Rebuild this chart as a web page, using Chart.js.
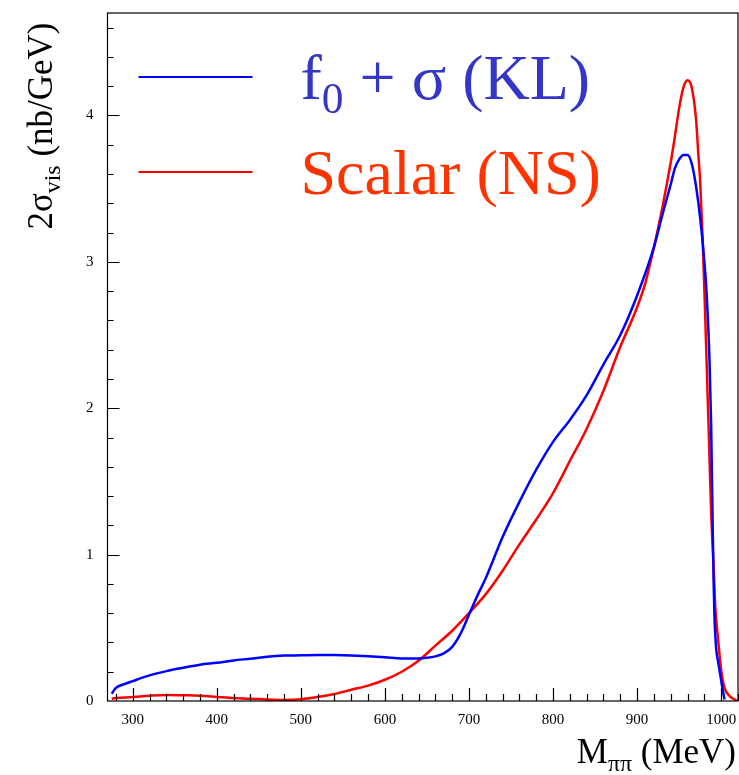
<!DOCTYPE html>
<html>
<head>
<meta charset="utf-8">
<script src="https://cdn.jsdelivr.net/npm/chart.js@4"></script>
<style>
  html, body { margin: 0; padding: 0; background: #fff; }
</style>
</head>
<body>
<canvas id="xsecChart" width="739" height="775"></canvas>
<script>
// M_pipi (MeV) vs 2 sigma_vis (nb/GeV)
const massKL = [275, 280, 290, 300, 320, 340, 360, 380, 400, 420, 440, 460, 480, 500, 520, 540, 560, 580, 600, 620,
  640, 650, 660, 670, 680, 690, 700, 710, 720, 740, 760, 780, 800, 820, 840, 860, 880, 900, 920, 930,
  940, 945, 950, 955, 960, 965, 970, 975, 980, 983, 986, 988, 990, 991, 992, 994, 996, 998, 1000, 1002, 1004];
const sigmaKL = [0.05, 0.09, 0.115, 0.136, 0.175, 0.204, 0.227, 0.248, 0.261, 0.277, 0.289, 0.302, 0.310, 0.312, 0.315, 0.314, 0.311, 0.306, 0.299, 0.291,
  0.290, 0.295, 0.305, 0.325, 0.37, 0.46, 0.59, 0.72, 0.84, 1.12, 1.36, 1.58, 1.77, 1.92, 2.09, 2.30, 2.50, 2.77, 3.10, 3.32,
  3.53, 3.64, 3.70, 3.73, 3.73, 3.67, 3.52, 3.30, 3.00, 2.75, 2.35, 1.90, 1.15, 0.82, 0.58, 0.36, 0.28, 0.21, 0.14, 0.07, 0.01];

const massNS = [275, 280, 300, 320, 340, 360, 380, 400, 420, 440, 460, 480, 500, 520, 540, 560, 580, 600, 620, 640,
  660, 680, 700, 720, 740, 760, 780, 800, 820, 840, 860, 880, 900, 910, 920, 930, 940, 945, 950, 955,
  960, 965, 970, 973, 975, 978, 981, 983, 986, 988, 991, 993, 996, 1000, 1004, 1010, 1016, 1020];
const sigmaNS = [0.016, 0.02, 0.027, 0.036, 0.041, 0.039, 0.036, 0.028, 0.020, 0.016, 0.010, 0.007, 0.012, 0.027, 0.048, 0.077, 0.105, 0.145, 0.20, 0.275,
  0.378, 0.48, 0.60, 0.73, 0.89, 1.07, 1.24, 1.42, 1.64, 1.86, 2.12, 2.42, 2.69, 2.86, 3.10, 3.37, 3.68, 3.86, 4.05, 4.19,
  4.24, 4.19, 3.98, 3.72, 3.55, 3.15, 2.63, 2.25, 1.68, 1.30, 0.92, 0.64, 0.44, 0.21, 0.09, 0.034, 0.01, 0.0];

const seriesLabels = ['f0 + σ (KL)', 'Scalar (NS)'];

const SERIF = "'Liberation Serif', 'Times New Roman', serif";

function toPoints(xs, ys) {
  return xs.map((x, i) => ({ x: x, y: ys[i] }));
}

// pieces: [[text, isSub], ...] drawn on one baseline
function drawPieces(ctx, pieces, x, y, size, align) {
  const widths = pieces.map(p => {
    ctx.font = (p[1] ? size * 0.68 : size) + 'px ' + SERIF;
    return ctx.measureText(p[0]).width;
  });
  const total = widths.reduce((a, b) => a + b, 0);
  let cx = align === 'right' ? x - total : align === 'center' ? x - total / 2 : x;
  ctx.textAlign = 'left';
  ctx.textBaseline = 'alphabetic';
  pieces.forEach((p, i) => {
    ctx.font = (p[1] ? size * 0.68 : size) + 'px ' + SERIF;
    ctx.fillText(p[0], cx, p[1] ? y + size * 0.22 : y);
    cx += widths[i];
  });
}

const frameAndText = {
  id: 'frameAndText',
  afterDatasetsDraw(chart) {
    const { ctx, chartArea: a, scales: { x, y } } = chart;
    ctx.save();
    ctx.strokeStyle = '#000';
    ctx.lineWidth = 1.2;
    ctx.strokeRect(a.left, a.top, a.right - a.left, a.bottom - a.top);

    // ROOT style ticks pointing inwards
    ctx.beginPath();
    for (let v = 280; v <= 1020; v += 20) {
      const px = Math.round(x.getPixelForValue(v)) + 0.5;
      const len = v % 100 === 0 ? 13 : 7;
      ctx.moveTo(px, a.bottom);
      ctx.lineTo(px, a.bottom - len);
    }
    for (let k = 1; k <= 23; k++) {
      const py = Math.round(y.getPixelForValue(k * 0.2)) + 0.5;
      const len = k % 5 === 0 ? 12 : 6;
      ctx.moveTo(a.left, py);
      ctx.lineTo(a.left + len, py);
    }
    ctx.stroke();

    // legend
    const ds = chart.data.datasets;
    const rows = [a.top + 64, a.top + 159];
    rows.forEach((ly, i) => {
      ctx.strokeStyle = ds[i].borderColor;
      ctx.lineWidth = 2;
      ctx.beginPath();
      ctx.moveTo(a.left + 31, ly);
      ctx.lineTo(a.left + 145, ly);
      ctx.stroke();
    });
    ctx.fillStyle = '#3535c8';
    drawPieces(ctx, [['f', false], ['0', true], [' + σ (KL)', false]], a.left + 193, rows[0] + 22, 64, 'left');
    ctx.fillStyle = '#ff3300';
    drawPieces(ctx, [['Scalar (NS)', false]], a.left + 193, rows[1] + 22, 64, 'left');

    // axis titles
    ctx.fillStyle = '#000';
    drawPieces(ctx, [['M', false], ['ππ', true], [' (MeV)', false]], 736, 763, 35, 'right');
    ctx.translate(52, 126);
    ctx.rotate(-Math.PI / 2);
    drawPieces(ctx, [['2σ', false], ['vis', true], [' (nb/GeV)', false]], 0, 0, 35, 'center');
    ctx.restore();
  }
};

const tickFont = { family: SERIF, size: 15 };

// keep Chart.js from reserving room for labels that overhang the plot edges
function noEdgePadding(scale) {
  scale.paddingLeft = 0;
  scale.paddingRight = 0;
  scale.paddingTop = 0;
  scale.paddingBottom = 0;
}

new Chart(document.getElementById('xsecChart').getContext('2d'), {
  type: 'line',
  data: {
    datasets: [
      {
        label: seriesLabels[0],
        data: toPoints(massKL, sigmaKL),
        borderColor: '#0000ff',
        borderWidth: 2.5,
        pointRadius: 0,
        cubicInterpolationMode: 'monotone',
        fill: false
      },
      {
        label: seriesLabels[1],
        data: toPoints(massNS, sigmaNS),
        borderColor: '#ff0000',
        borderWidth: 2.5,
        pointRadius: 0,
        cubicInterpolationMode: 'monotone',
        fill: false
      }
    ]
  },
  options: {
    responsive: false,
    animation: false,
    layout: { padding: { left: 72, right: 1, top: 13, bottom: 36 } },
    plugins: {
      legend: { display: false },
      tooltip: { enabled: false }
    },
    scales: {
      x: {
        type: 'linear',
        min: 270,
        max: 1020,
        grid: { display: false, drawTicks: false },
        border: { display: false },
        afterFit: noEdgePadding,
        ticks: {
          stepSize: 100, includeBounds: false, padding: 10, maxRotation: 0, color: '#000', font: tickFont,
          callback: v => String(v)
        }
      },
      y: {
        type: 'linear',
        min: 0,
        max: 4.7,
        grid: { display: false, drawTicks: false },
        border: { display: false },
        afterFit: noEdgePadding,
        ticks: { stepSize: 1, includeBounds: false, padding: 14, color: '#000', font: tickFont }
      }
    }
  },
  plugins: [frameAndText]
});
</script>
</body>
</html>
